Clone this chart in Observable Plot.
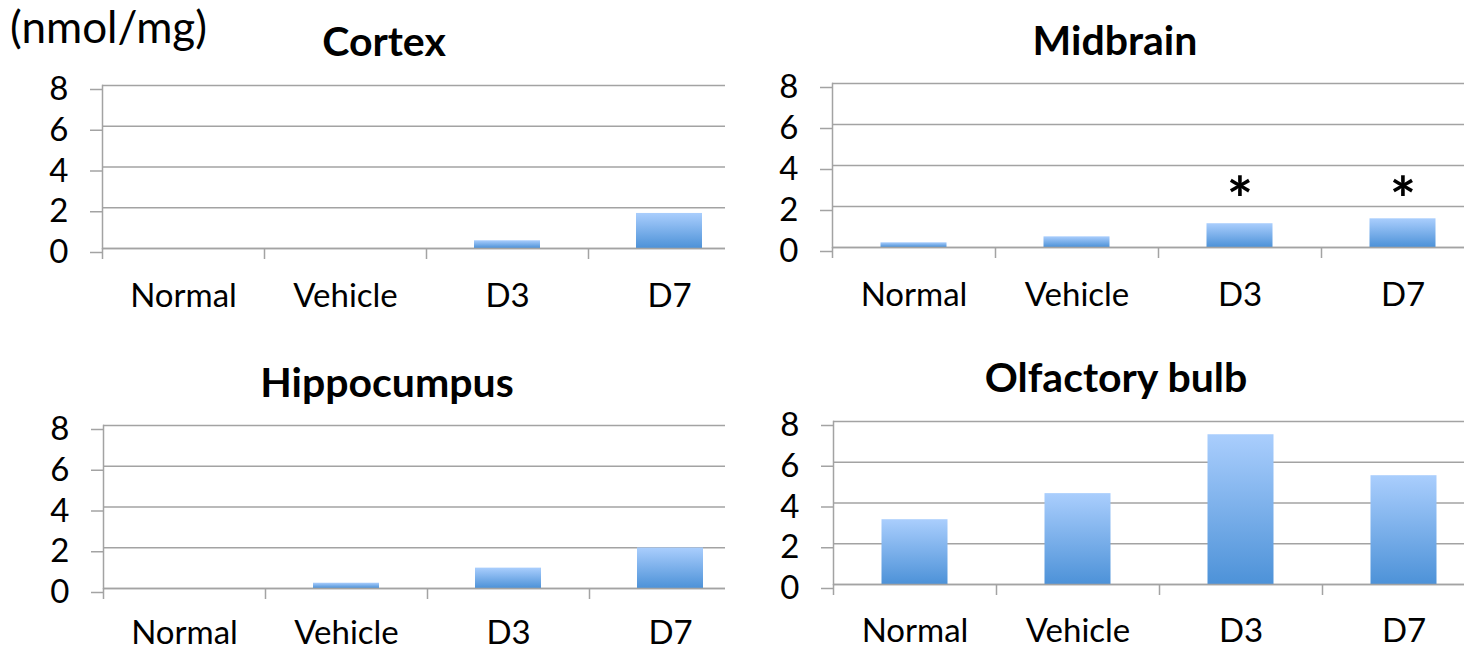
<!DOCTYPE html>
<html>
<head>
<meta charset="utf-8">
<script src="https://cdn.jsdelivr.net/npm/d3@7"></script>
<script src="https://cdn.jsdelivr.net/npm/@observablehq/plot@0.6"></script>
<style>
  html, body { margin: 0; padding: 0; background: #fff; }
  #root { position: relative; width: 1464px; height: 651px; overflow: hidden; font-family: Lato, "Open Sans", sans-serif; }
  .panel { position: absolute; }
  .panel svg { display: block; }
  .title { position: absolute; font-weight: bold; font-size: 41px; color: #000; white-space: nowrap; transform: translateX(-50%); line-height: 1; }
  .unit { position: absolute; font-size: 44px; color: #000; line-height: 1; white-space: nowrap; }
</style>
</head>
<body>
<div id="root"></div>
<script>
// ---- data ----
const categories = ["Normal", "Vehicle", "D3", "D7"];
const cortex      = [0, 0, 0.38, 1.72];
const midbrain    = [0.23, 0.52, 1.16, 1.40];
const hippocampus = [0, 0.26, 1.0, 1.99];
const olfactory   = [3.18, 4.46, 7.35, 5.34];
const midbrainSig = ["", "", "*", "*"];
const yTicks = [0, 2, 4, 6, 8];
const unitLabel = "(nmol/mg)";
const titles = ["Cortex", "Midbrain", "Hippocumpus", "Olfactory bulb"];

const root = document.getElementById("root");

function addGradient(svg, id) {
  const ns = "http://www.w3.org/2000/svg";
  const defs = document.createElementNS(ns, "defs");
  const lg = document.createElementNS(ns, "linearGradient");
  lg.setAttribute("id", id);
  lg.setAttribute("x1", "0"); lg.setAttribute("y1", "0");
  lg.setAttribute("x2", "0"); lg.setAttribute("y2", "1");
  const s1 = document.createElementNS(ns, "stop");
  s1.setAttribute("offset", "0"); s1.setAttribute("stop-color", "#aacefd");
  const s2 = document.createElementNS(ns, "stop");
  s2.setAttribute("offset", "1"); s2.setAttribute("stop-color", "#4d92d8");
  lg.appendChild(s1); lg.appendChild(s2);
  defs.appendChild(lg);
  svg.insertBefore(defs, svg.firstChild);
}

function panel(cfg) {
  const data = categories.map((c, i) => ({cat: c, v: cfg.values[i], sig: cfg.sig ? cfg.sig[i] : ""}));
  const step = (cfg.xRange[1] - cfg.xRange[0]) / categories.length;
  const gid = "grad" + cfg.id;
  const marks = [
    Plot.gridY(yTicks, {stroke: "#a3a3a3", strokeOpacity: 1, strokeWidth: 1.5}),
    Plot.axisY(yTicks, {tickSize: 12, tickPadding: 22, stroke: "#a3a3a3", strokeWidth: 1.5, fontSize: 33, fill: "#000", dy: 4, label: null}),
    Plot.frame({anchor: "left", stroke: "#a3a3a3", strokeWidth: 1.5}),
    Plot.barY(data, {x: "cat", y: "v", fill: `url(#${gid})`, insetLeft: (step - 66) / 2, insetRight: (step - 66) / 2}),
    Plot.axisX(categories, {tickSize: 11, text: null, dx: -step / 2, stroke: "#a3a3a3", strokeWidth: 1.5, label: null}),
    Plot.text(categories, {x: d => d, frameAnchor: "bottom", dy: cfg.labelDy, fontSize: 33, fill: "#000"}),
    Plot.ruleY([0], {stroke: "#a3a3a3", strokeWidth: 1.5})
  ];
  if (cfg.sig) {
    marks.push(Plot.text(data, {x: "cat", text: "sig", frameAnchor: "bottom", dy: -26, fontSize: 62, fontWeight: "bold", fill: "#000"}));
  }
  const chart = Plot.plot({
    width: cfg.width,
    height: cfg.height,
    marginLeft: cfg.marginLeft,
    marginRight: cfg.marginRight,
    marginTop: cfg.marginTop,
    marginBottom: cfg.marginBottom,
    style: {fontFamily: "Lato, 'Open Sans', sans-serif", background: "transparent", overflow: "visible"},
    x: {type: "band", domain: categories, range: cfg.xRange, padding: 0, axis: null},
    y: {domain: [0, 8], axis: null},
    marks
  });
  addGradient(chart, gid);
  const wrap = document.createElement("div");
  wrap.className = "panel";
  wrap.style.left = cfg.left + "px";
  wrap.style.top = cfg.top + "px";
  wrap.appendChild(chart);
  root.appendChild(wrap);

  const t = document.createElement("div");
  t.className = "title";
  t.textContent = cfg.title;
  t.style.left = cfg.titleX + "px";
  t.style.top = cfg.titleY + "px";
  root.appendChild(t);
}

panel({id: 0, values: cortex, title: titles[0], left: 0, top: 0, width: 730, height: 330,
  marginLeft: 102, marginRight: 5, marginTop: 85, marginBottom: 82, xRange: [102, 750], labelDy: 58,
  titleX: 384, titleY: 20});
panel({id: 1, values: midbrain, sig: midbrainSig, title: titles[1], left: 730, top: 0, width: 734, height: 330,
  marginLeft: 102, marginRight: 0, marginTop: 83, marginBottom: 83, xRange: [102, 754], labelDy: 58,
  titleX: 1115, titleY: 19});
panel({id: 2, values: hippocampus, title: titles[2], left: 0, top: 340, width: 730, height: 311,
  marginLeft: 103, marginRight: 5, marginTop: 85, marginBottom: 63, xRange: [103, 751], labelDy: 55,
  titleX: 387, titleY: 361});
panel({id: 3, values: olfactory, title: titles[3], left: 730, top: 340, width: 734, height: 311,
  marginLeft: 103, marginRight: 0, marginTop: 81, marginBottom: 67, xRange: [103, 755], labelDy: 57,
  titleX: 1116, titleY: 356});

const u = document.createElement("div");
u.className = "unit";
u.textContent = unitLabel;
u.style.left = "10px";
u.style.top = "4px";
root.appendChild(u);
</script>
</body>
</html>
